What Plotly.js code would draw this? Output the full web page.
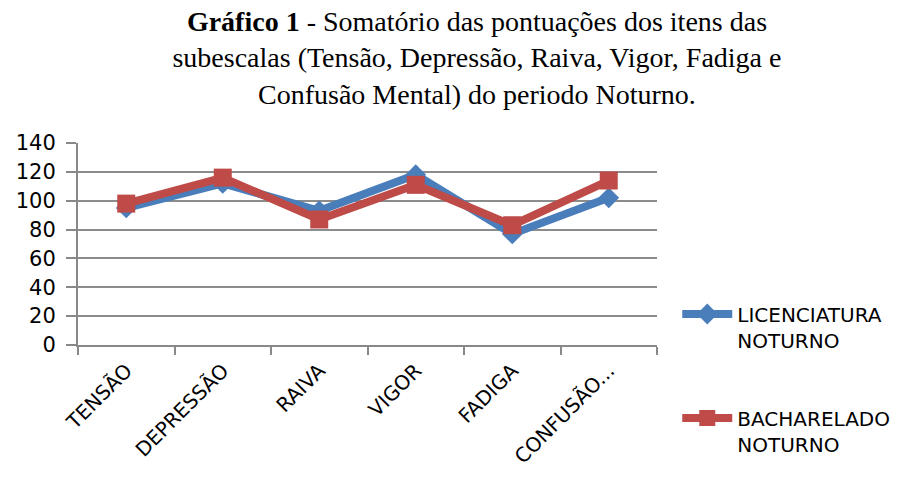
<!DOCTYPE html>
<html>
<head>
<meta charset="utf-8">
<script src="https://cdn.plot.ly/plotly-3.0.1.min.js"></script>
<style>html,body{margin:0;padding:0;background:#fff;}#chart{width:912px;height:478px;}</style>
</head>
<body>
<div id="chart"></div>
<script>
const categories = ["TENSÃO", "DEPRESSÃO", "RAIVA", "VIGOR", "FADIGA", "CONFUSÃO..."];
const licenciaturaNoturno = [95, 112, 93, 118, 77, 102];
const bachareladoNoturno = [98, 116, 87, 111, 83, 114];
const seriesNames = ["LICENCIATURA<br>NOTURNO", "BACHARELADO<br>NOTURNO"];
const yTicks = [0, 20, 40, 60, 80, 100, 120, 140];

const labelFont = {family: "DejaVu Sans, sans-serif", size: 20, color: "#000"};

const traces = [
  {
    x: categories, y: licenciaturaNoturno, name: seriesNames[0], legendgroup: "a",
    type: "scatter", mode: "lines+markers",
    line: {color: "#4A7EBB", width: 8},
    marker: {symbol: "diamond", size: 16, color: "#4A7EBB"}
  },
  {
    x: categories, y: bachareladoNoturno, name: seriesNames[1], legendgroup: "b",
    type: "scatter", mode: "lines+markers",
    line: {color: "#BE4B48", width: 8},
    marker: {symbol: "square", size: 18, color: "#BE4B48"}
  }
];

const layout = {
  width: 912, height: 478,
  paper_bgcolor: "#fff", plot_bgcolor: "#fff",
  margin: {l: 78, r: 255, t: 143, b: 133},
  showlegend: true,
  title: {
    text: "<b>Gráfico 1</b> - Somatório das pontuações dos itens das<br>subescalas (Tensão, Depressão, Raiva, Vigor, Fadiga e<br>Confusão Mental) do periodo Noturno.",
    font: {family: "Liberation Serif, Times New Roman, serif", size: 28, color: "#000"},
    x: 0.523, xanchor: "center", xref: "container",
    y: 0.935, yanchor: "top", yref: "container"
  },
  xaxis: {
    type: "category",
    tickangle: -45,
    tickson: "boundaries",
    ticks: "outside", ticklen: 8, tickcolor: "#888", tickwidth: 2,
    showline: true, linecolor: "#888", linewidth: 2,
    showgrid: false,
    ticklabelstandoff: 4,
    tickfont: labelFont,
    range: [-0.5, 5.5]
  },
  yaxis: {
    range: [0, 140],
    tickvals: yTicks,
    ticks: "outside", ticklen: 10, tickcolor: "#888", tickwidth: 2,
    showline: true, linecolor: "#888", linewidth: 2,
    showgrid: true, gridcolor: "#8c8c8c", gridwidth: 2,
    zeroline: false,
    ticklabelstandoff: 6,
    tickfont: {family: "DejaVu Sans, sans-serif", size: 21, color: "#000"}
  },
  legend: {
    x: 1.035, xanchor: "left", xref: "paper",
    y: 0.25, yanchor: "top",
    valign: "top",
    traceorder: "grouped",
    tracegroupgap: 49,
    itemwidth: 50,
    font: labelFont,
    bgcolor: "rgba(0,0,0,0)"
  }
};

Plotly.newPlot("chart", traces, layout, {displayModeBar: false, staticPlot: true});
</script>
</body>
</html>
